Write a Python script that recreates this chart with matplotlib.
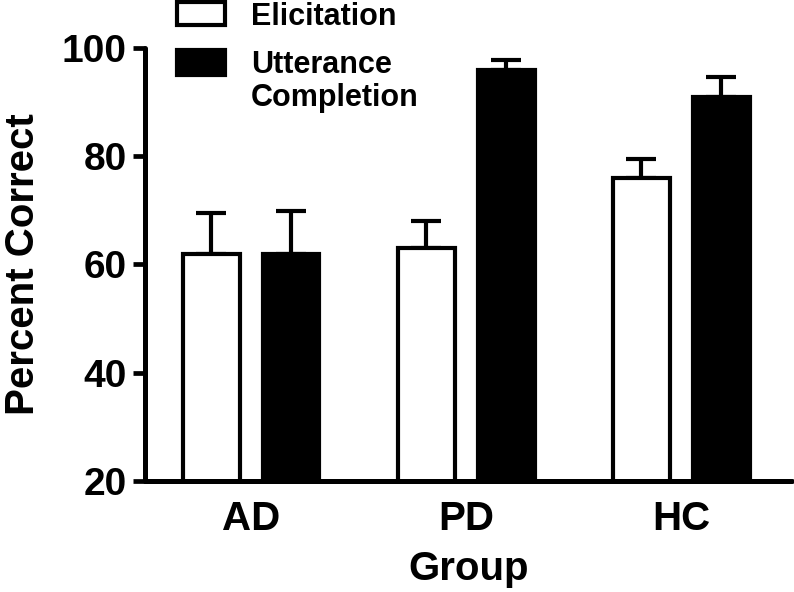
import numpy as np
import matplotlib.pyplot as plt
from matplotlib.patches import Rectangle

plt.rcParams['font.family'] = ['Liberation Sans', 'DejaVu Sans']
plt.rcParams['font.weight'] = 'bold'

groups = ['AD', 'PD', 'HC']
elicitation = [62, 63, 76]
elicitation_err = [7.5, 5, 3.4]
utterance = [62, 96, 91]
utterance_err = [7.8, 1.7, 3.6]

fig = plt.figure(figsize=(7.94, 5.92), dpi=100)
ax = fig.add_axes([145 / 794, 1 - 481 / 592, 647 / 794, 433 / 592])

x = np.arange(len(groups))
width = 0.265
offset = 0.186

ax.bar(x - offset, elicitation, width, color='white', edgecolor='black',
       linewidth=3, zorder=2)
ax.bar(x + offset, utterance, width, color='black', edgecolor='black',
       linewidth=3, zorder=2)
ax.errorbar(x - offset, elicitation, yerr=[np.zeros(3), elicitation_err],
            fmt='none', ecolor='black', elinewidth=3, capsize=10.5, capthick=3,
            zorder=1)
ax.errorbar(x + offset, utterance, yerr=[np.zeros(3), utterance_err],
            fmt='none', ecolor='black', elinewidth=3, capsize=10.5, capthick=3,
            zorder=1)

ax.set_xlim(-0.493, 2.516)
ax.set_ylim(20, 100)
ax.set_yticks([20, 40, 60, 80, 100])
ax.set_xticks(x)
ax.set_xticklabels(groups)

for side in ['top', 'right']:
    ax.spines[side].set_visible(False)
for side in ['left', 'bottom']:
    ax.spines[side].set_linewidth(3.6)
    ax.spines[side].set_capstyle('round')

ax.tick_params(axis='y', length=9, width=3.4, labelsize=28, pad=4)
ax.tick_params(axis='x', length=0, labelsize=29, pad=14)

ax.set_xlabel('Group', fontsize=29, fontweight='bold', labelpad=8)
ax.set_ylabel('Percent Correct', fontsize=29, fontweight='bold', labelpad=14)

# legend drawn in figure pixels
fig.patches.append(Rectangle((177 / 794, 1 - 25 / 592), 48 / 794, 23 / 592,
                             transform=fig.transFigure, facecolor='white',
                             edgecolor='black', linewidth=3))
fig.patches.append(Rectangle((177 / 794, 1 - 75 / 592), 48 / 794, 25 / 592,
                             transform=fig.transFigure, facecolor='black',
                             edgecolor='black', linewidth=3))
fig.text(251 / 794, 1 - 17 / 592, 'Elicitation', fontsize=22,
         fontweight='bold', va='center', ha='left')
fig.text(251 / 794, 1 - 65 / 592, 'Utterance', fontsize=22,
         fontweight='bold', va='center', ha='left')
fig.text(251 / 794, 1 - 98 / 592, 'Completion', fontsize=22,
         fontweight='bold', va='center', ha='left')

fig.savefig('out.png', dpi=100)
